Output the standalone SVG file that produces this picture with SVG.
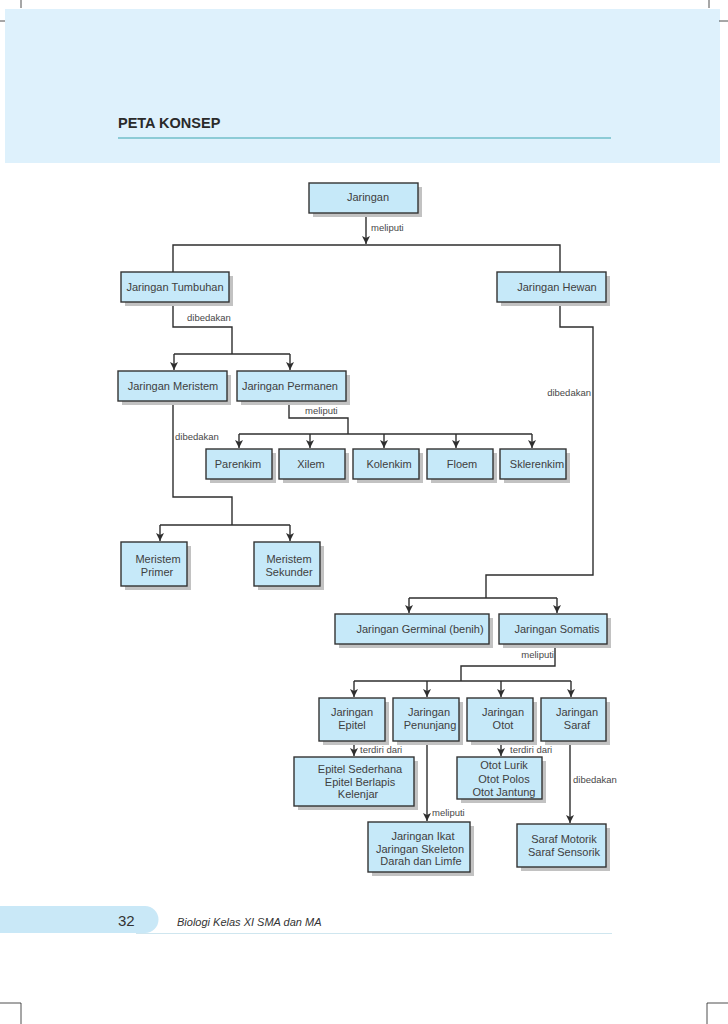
<svg xmlns="http://www.w3.org/2000/svg" width="728" height="1024" viewBox="0 0 728 1024">
<style>
.bx{fill:#c6e9f9;stroke:#333;stroke-width:1.4}
.sh{fill:#c2c2c2}
.t{font-family:"Liberation Sans",Arial,sans-serif;font-size:11px;fill:#404040;text-anchor:middle}
.lb{font-family:"Liberation Sans",Arial,sans-serif;font-size:9.5px;fill:#484848}
.c{fill:none;stroke:#2e2e2e;stroke-width:1.4}
.a{fill:none;stroke:#2e2e2e;stroke-width:1.4;marker-end:url(#ar)}
.crop{stroke:#222;stroke-width:0.8;fill:none}
</style>
<defs>
<marker id="ar" markerUnits="userSpaceOnUse" markerWidth="9" markerHeight="8" refX="8" refY="4" orient="auto" viewBox="0 0 9 8">
<path d="M0,0 L8,4 L0,8 L2,4 Z" fill="#2e2e2e"/>
</marker>
</defs>
<rect width="728" height="1024" fill="#ffffff"/>
<!-- header -->
<rect x="5" y="9" width="715" height="154" fill="#def1fc"/>
<text x="118" y="128" font-family="'Liberation Sans',Arial,sans-serif" font-size="14.5" font-weight="bold" fill="#2a2a2a">PETA KONSEP</text>
<line x1="118" y1="138" x2="611" y2="138" stroke="#3aa6b0" stroke-width="1.2"/>
<!-- crop marks -->
<path class="crop" d="M21,0 V8 M0,21 H5 M709,0 V8 M719,21 H728 M0,1003 H21 V1024 M728,1003 H707 V1024"/>
<!-- footer -->
<path d="M0,906 H145 A13.5,13.5 0 0 1 145,933 H0 Z" fill="#c9e8f7"/>
<line x1="136" y1="933.5" x2="612" y2="933.5" stroke="#cfe6ef" stroke-width="1"/>
<text x="118" y="926" font-family="'Liberation Sans',Arial,sans-serif" font-size="15" fill="#333">32</text>
<text x="177" y="926" font-family="'Liberation Sans',Arial,sans-serif" font-size="11" font-style="italic" fill="#333">Biologi Kelas XI SMA dan MA</text>

<g id="connectors">
<path class="a" d="M366,213 V244"/>
<path class="c" d="M173,272 V245 H560 V272"/>
<path class="c" d="M173,302 V327 H232 V354"/>
<path class="c" d="M174,354 H290"/>
<path class="a" d="M174,354 V370"/>
<path class="a" d="M290,354 V370"/>
<path class="c" d="M289,401 V418 H348 V434"/>
<path class="c" d="M239,434 H532"/>
<path class="a" d="M239,434 V448"/>
<path class="a" d="M310,434 V448"/>
<path class="a" d="M384,434 V448"/>
<path class="a" d="M456,434 V448"/>
<path class="a" d="M532,434 V448"/>
<path class="c" d="M173,401 V497 H232 V525"/>
<path class="c" d="M160,525 H290"/>
<path class="a" d="M160,525 V541"/>
<path class="a" d="M290,525 V541"/>
<path class="c" d="M560,302 V327 H593 V575 H486 V598"/>
<path class="c" d="M409,598 H557"/>
<path class="a" d="M409,598 V613"/>
<path class="a" d="M557,598 V613"/>
<path class="c" d="M555,644 V666 H461 V681"/>
<path class="c" d="M354,681 H571"/>
<path class="a" d="M354,681 V697"/>
<path class="a" d="M427,681 V697"/>
<path class="a" d="M501,681 V697"/>
<path class="a" d="M571,681 V697"/>
<path class="a" d="M354,741 V756"/>
<path class="a" d="M427,741 V821"/>
<path class="a" d="M501,741 V756"/>
<path class="a" d="M570,741 V823"/>
<text class="lb" x="371" y="231">meliputi</text>
<text class="lb" x="187" y="321">dibedakan</text>
<text class="lb" x="591" y="396" text-anchor="end">dibedakan</text>
<text class="lb" x="305" y="414">meliputi</text>
<text class="lb" x="175" y="440">dibedakan</text>
<text class="lb" x="554" y="658" text-anchor="end">meliputi</text>
<text class="lb" x="360" y="753">terdiri dari</text>
<text class="lb" x="510" y="753">terdiri dari</text>
<text class="lb" x="432" y="816">meliputi</text>
<text class="lb" x="573" y="783">dibedakan</text>
</g>

<g id="n-jaringan"><rect class="sh" x="313" y="187" width="109" height="30"/><rect class="bx" x="309" y="183" width="109" height="30"/><text class="t" x="368" y="201">Jaringan</text></g>
<g id="n-tumbuhan"><rect class="sh" x="125" y="276" width="108" height="30"/><rect class="bx" x="121" y="272" width="108" height="30"/><text class="t" x="175" y="291">Jaringan Tumbuhan</text></g>
<g id="n-hewan"><rect class="sh" x="501" y="276" width="109" height="30"/><rect class="bx" x="497" y="272" width="109" height="30"/><text class="t" x="557" y="291">Jaringan Hewan</text></g>
<g id="n-meristem"><rect class="sh" x="122" y="375" width="109" height="30"/><rect class="bx" x="118" y="371" width="109" height="30"/><text class="t" x="173" y="390">Jaringan Meristem</text></g>
<g id="n-permanen"><rect class="sh" x="241" y="375" width="109" height="30"/><rect class="bx" x="237" y="371" width="109" height="30"/><text class="t" x="290" y="390">Jaringan Permanen</text></g>
<g id="n-parenkim"><rect class="sh" x="210" y="453" width="66" height="30"/><rect class="bx" x="206" y="449" width="66" height="30"/><text class="t" x="238" y="468">Parenkim</text></g>
<g id="n-xilem"><rect class="sh" x="283" y="453" width="66" height="30"/><rect class="bx" x="279" y="449" width="66" height="30"/><text class="t" x="311" y="468">Xilem</text></g>
<g id="n-kolenkim"><rect class="sh" x="357" y="453" width="66" height="30"/><rect class="bx" x="353" y="449" width="66" height="30"/><text class="t" x="389" y="468">Kolenkim</text></g>
<g id="n-floem"><rect class="sh" x="431" y="453" width="66" height="30"/><rect class="bx" x="427" y="449" width="66" height="30"/><text class="t" x="462" y="468">Floem</text></g>
<g id="n-sklerenkim"><rect class="sh" x="504" y="453" width="66" height="30"/><rect class="bx" x="500" y="449" width="66" height="30"/><text class="t" x="537" y="468">Sklerenkim</text></g>
<g id="n-primer"><rect class="sh" x="125" y="546" width="66" height="44"/><rect class="bx" x="121" y="542" width="66" height="44"/><text class="t" x="158" y="563">Meristem</text><text class="t" x="157" y="576">Primer</text></g>
<g id="n-sekunder"><rect class="sh" x="258" y="546" width="66" height="44"/><rect class="bx" x="254" y="542" width="66" height="44"/><text class="t" x="289" y="563">Meristem</text><text class="t" x="289" y="576">Sekunder</text></g>
<g id="n-germinal"><rect class="sh" x="339" y="618" width="154" height="30"/><rect class="bx" x="335" y="614" width="154" height="30"/><text class="t" x="420" y="633">Jaringan Germinal (benih)</text></g>
<g id="n-somatis"><rect class="sh" x="503" y="618" width="108" height="30"/><rect class="bx" x="499" y="614" width="108" height="30"/><text class="t" x="557" y="633">Jaringan Somatis</text></g>
<g id="n-epitel"><rect class="sh" x="323" y="702" width="66" height="43"/><rect class="bx" x="319" y="698" width="66" height="43"/><text class="t" x="352" y="716">Jaringan</text><text class="t" x="352" y="729">Epitel</text></g>
<g id="n-penunjang"><rect class="sh" x="397" y="702" width="66" height="43"/><rect class="bx" x="393" y="698" width="66" height="43"/><text class="t" x="429" y="716">Jaringan</text><text class="t" x="430" y="729">Penunjang</text></g>
<g id="n-otot"><rect class="sh" x="471" y="702" width="66" height="43"/><rect class="bx" x="467" y="698" width="66" height="43"/><text class="t" x="503" y="716">Jaringan</text><text class="t" x="503" y="729">Otot</text></g>
<g id="n-saraf"><rect class="sh" x="545" y="702" width="65" height="43"/><rect class="bx" x="541" y="698" width="65" height="43"/><text class="t" x="577" y="716">Jaringan</text><text class="t" x="577" y="729">Saraf</text></g>
<g id="n-epitel-jenis"><rect class="sh" x="298" y="761" width="120" height="49"/><rect class="bx" x="294" y="757" width="120" height="49"/><text class="t" x="360" y="773">Epitel Sederhana</text><text class="t" x="360" y="786">Epitel Berlapis</text><text class="t" x="358" y="798">Kelenjar</text></g>
<g id="n-otot-jenis"><rect class="sh" x="461" y="761" width="85" height="42"/><rect class="bx" x="457" y="757" width="85" height="42"/><text class="t" x="504" y="769">Otot Lurik</text><text class="t" x="504" y="783">Otot Polos</text><text class="t" x="504" y="796">Otot Jantung</text></g>
<g id="n-ikat"><rect class="sh" x="372" y="826" width="102" height="50"/><rect class="bx" x="368" y="822" width="102" height="50"/><text class="t" x="423" y="840">Jaringan Ikat</text><text class="t" x="420" y="853">Jaringan Skeleton</text><text class="t" x="421" y="865">Darah dan Limfe</text></g>
<g id="n-saraf-jenis"><rect class="sh" x="521" y="828" width="89" height="43"/><rect class="bx" x="517" y="824" width="89" height="43"/><text class="t" x="564" y="843">Saraf Motorik</text><text class="t" x="564" y="856">Saraf Sensorik</text></g>
</svg>
